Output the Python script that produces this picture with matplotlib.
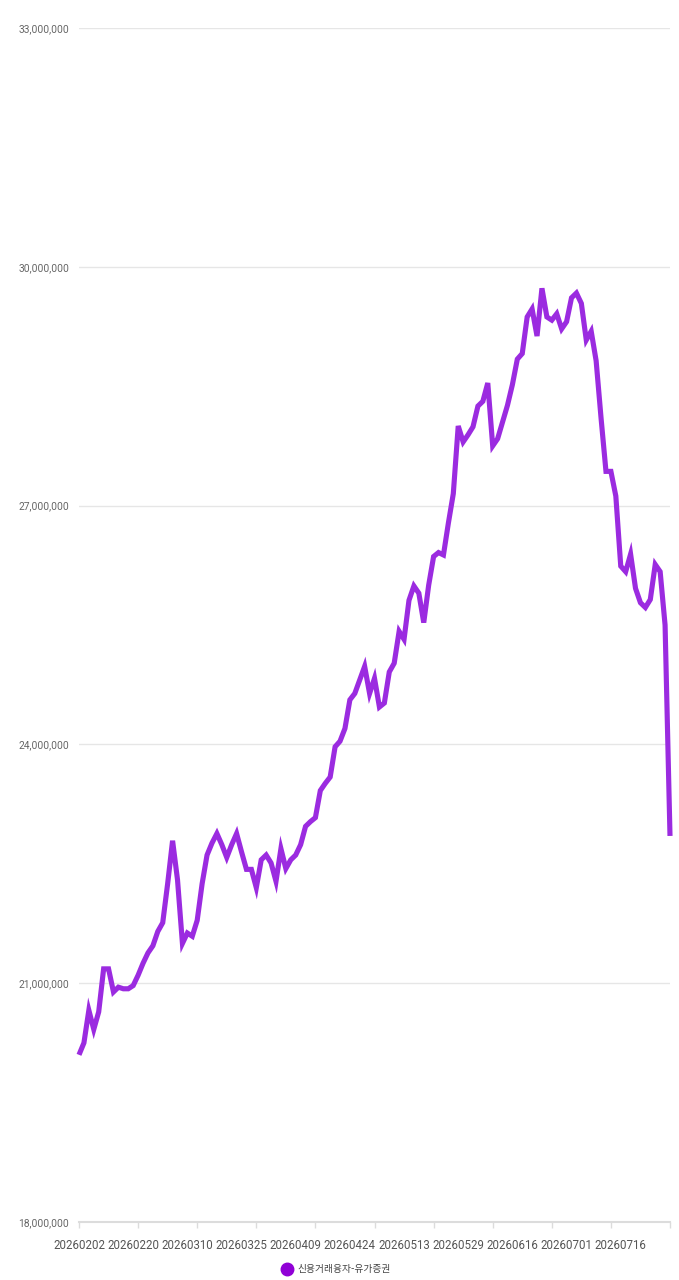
import matplotlib
matplotlib.use("Agg")
import matplotlib.pyplot as plt
from matplotlib.ticker import FixedLocator, FuncFormatter
from matplotlib.lines import Line2D

# Series: 신용거래융자-유가증권 (values in millions of KRW units shown on axis)
values_m = [
    20.10, 20.25, 20.66, 20.42, 20.64, 21.18, 21.18, 20.89, 20.95, 20.93,
    20.93, 20.97, 21.10, 21.25, 21.38, 21.47, 21.65, 21.76, 22.25, 22.79,
    22.30, 21.50, 21.63, 21.59, 21.79, 22.25, 22.61, 22.76, 22.88, 22.74,
    22.58, 22.74, 22.88, 22.65, 22.43, 22.43, 22.20, 22.55, 22.61, 22.51,
    22.28, 22.69, 22.44, 22.55, 22.61, 22.74, 22.97, 23.03, 23.08, 23.42,
    23.51, 23.59, 23.97, 24.04, 24.20, 24.56, 24.64, 24.81, 24.98, 24.64,
    24.83, 24.47, 24.52, 24.91, 25.02, 25.42, 25.32, 25.81, 25.99, 25.90,
    25.53, 26.00, 26.36, 26.41, 26.38, 26.78, 27.15, 28.00, 27.80, 27.89,
    27.99, 28.25, 28.31, 28.54, 27.75, 27.84, 28.05, 28.26, 28.52, 28.84,
    28.91, 29.37, 29.47, 29.13, 29.73, 29.37, 29.33, 29.41, 29.22, 29.31,
    29.61, 29.67, 29.54, 29.08, 29.19, 28.82, 28.10, 27.43, 27.43, 27.12,
    26.24, 26.17, 26.39, 25.96, 25.78, 25.72, 25.82, 26.26, 26.17, 25.50,
    22.85,
]
values = [v * 1_000_000 for v in values_m]

x_labels = ["20260202", "20260220", "20260310", "20260325", "20260409",
            "20260424", "20260513", "20260529", "20260616", "20260701",
            "20260716"]
label_step = 11
tick_step = 12
y_ticks = [18_000_000, 21_000_000, 24_000_000, 27_000_000, 30_000_000, 33_000_000]
series_name = "신용거래융자-유가증권"

line_color = "#9b2be0"
legend_color = "#9000d6"

W, H = 679, 1280
fig = plt.figure(figsize=(W / 100, H / 100), dpi=100)
ax = fig.add_axes([79 / W, (H - 1222) / H, (670 - 79) / W, (1222 - 28) / H])

xs = list(range(len(values)))
ax.plot(xs, values, color=line_color, lw=3.7, solid_joinstyle="miter",
        solid_capstyle="butt", zorder=3, clip_on=False)

ax.set_xlim(0, len(values) - 1)
ax.set_ylim(y_ticks[0], y_ticks[-1])

# y axis
ax.set_yticks(y_ticks)
ax.yaxis.set_major_formatter(FuncFormatter(lambda v, p: f"{int(v):,}"))
ax.tick_params(axis="y", length=0, pad=7, labelsize=7.4, labelcolor="#666666")
for lab in ax.get_yticklabels():
    lab.set_fontfamily("Roboto")
ax.grid(axis="y", color="#e6e6e6", lw=1.0, zorder=0)

# x axis
ax.xaxis.remove_overlapping_locs = False
ax.xaxis.set_major_locator(FixedLocator([i * label_step for i in range(len(x_labels))]))
ax.set_xticklabels(x_labels)
ax.xaxis.set_minor_locator(FixedLocator(list(range(0, len(values), tick_step))))
ax.tick_params(axis="x", which="major", length=0, pad=12, labelsize=8.3,
               labelcolor="#555555")
ax.tick_params(axis="x", which="minor", length=4, width=1, color="#dcdcdc",
               direction="out")
for lab in ax.get_xticklabels():
    lab.set_fontfamily("Roboto")

for s in ["top", "right", "left"]:
    ax.spines[s].set_visible(False)
ax.spines["bottom"].set_color("#dcdcdc")
ax.spines["bottom"].set_linewidth(1.5)
ax.set_axisbelow(True)

# legend
handle = Line2D([], [], marker="o", ls="none", markersize=9,
                markerfacecolor=legend_color, markeredgecolor=legend_color)
fig.legend([handle], [series_name], loc="center", bbox_to_anchor=(334 / W, 1 - 1269 / H),
           frameon=False, handletextpad=0.05, borderaxespad=0,
           prop={"family": ["Noto Sans CJK KR", "DejaVu Sans"], "size": 7.0},
           labelcolor="#444444")

fig.savefig("out.png", dpi=100, facecolor="white")
